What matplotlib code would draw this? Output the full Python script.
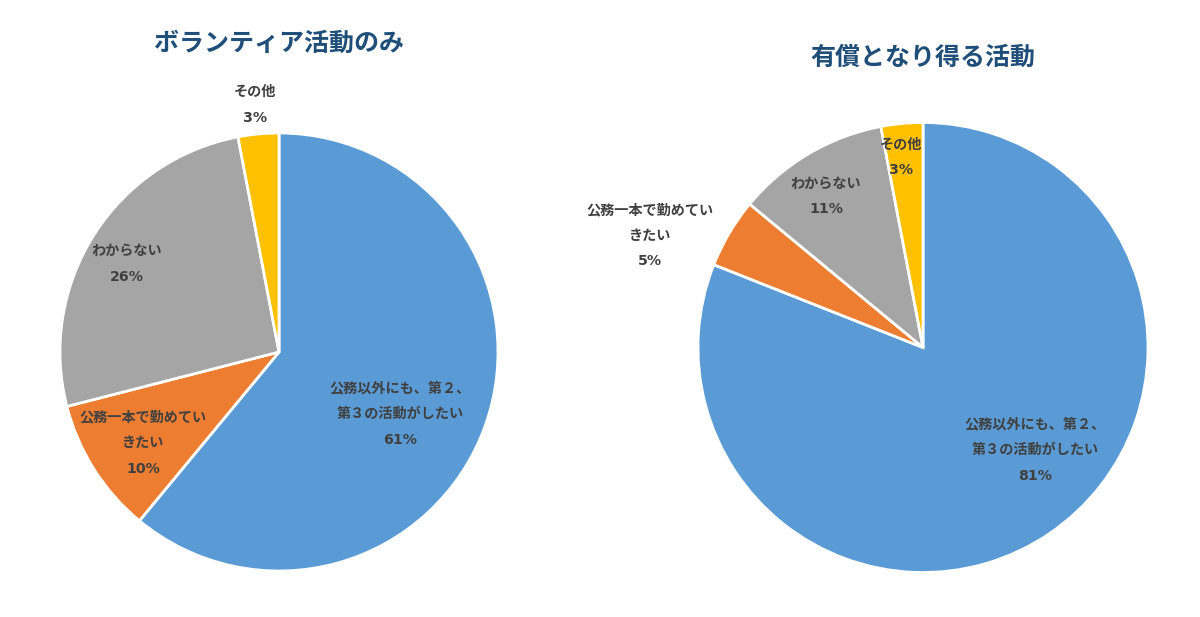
import matplotlib.pyplot as plt

plt.rcParams['font.family'] = ['Noto Sans CJK JP', 'DejaVu Sans']

# data
labels_left = ['公務以外にも、第２、\n第３の活動がしたい', '公務一本で勤めてい\nきたい', 'わからない', 'その他']
values_left = [61, 10, 26, 3]
labels_right = ['公務以外にも、第２、\n第３の活動がしたい', '公務一本で勤めてい\nきたい', 'わからない', 'その他']
values_right = [81, 5, 11, 3]
titles = ['ボランティア活動のみ', '有償となり得る活動']

colors = ['#5B9BD5', '#ED7D31', '#A5A5A5', '#FFC000']
text_color = '#404040'
title_color = '#1F4E79'

# label positions (in pie radius units)
pos_left = [(0.553, -0.283), (-0.621, -0.416), (-0.694, 0.402), (-0.11, 1.128)]
pos_right = [(0.498, -0.456), (-1.213, 0.496), (-0.431, 0.673), (-0.098, 0.844)]

W, H = 1200, 617
fig = plt.figure(figsize=(12, 6.17), dpi=100)


def draw_pie(cx, cy, r, values, labels, positions, title, title_y):
    ax = fig.add_axes([(cx - r) / W, (H - cy - r) / H, 2 * r / W, 2 * r / H])
    ax.pie(values, colors=colors, startangle=90, counterclock=False, radius=1,
           wedgeprops=dict(edgecolor='white', linewidth=2))
    ax.set_xlim(-1, 1)
    ax.set_ylim(-1, 1)
    ax.set_aspect('auto')
    ax.axis('off')
    for lab, v, (x, y) in zip(labels, values, positions):
        ax.text(x, y, f'{lab}\n{v}%', ha='center', va='center', fontsize=10.2,
                fontweight='bold', color=text_color, linespacing=2.05,
                family=['DejaVu Sans', 'Noto Sans CJK JP'], clip_on=False)
    fig.text(cx / W, 1 - title_y / H, title, ha='center', va='center',
             fontsize=18, fontweight='bold', color=title_color)


draw_pie(279, 352, 219, values_left, labels_left, pos_left, titles[0], 44)
draw_pie(923, 347.5, 225, values_right, labels_right, pos_right, titles[1], 58)

fig.savefig('out.png', dpi=100)
